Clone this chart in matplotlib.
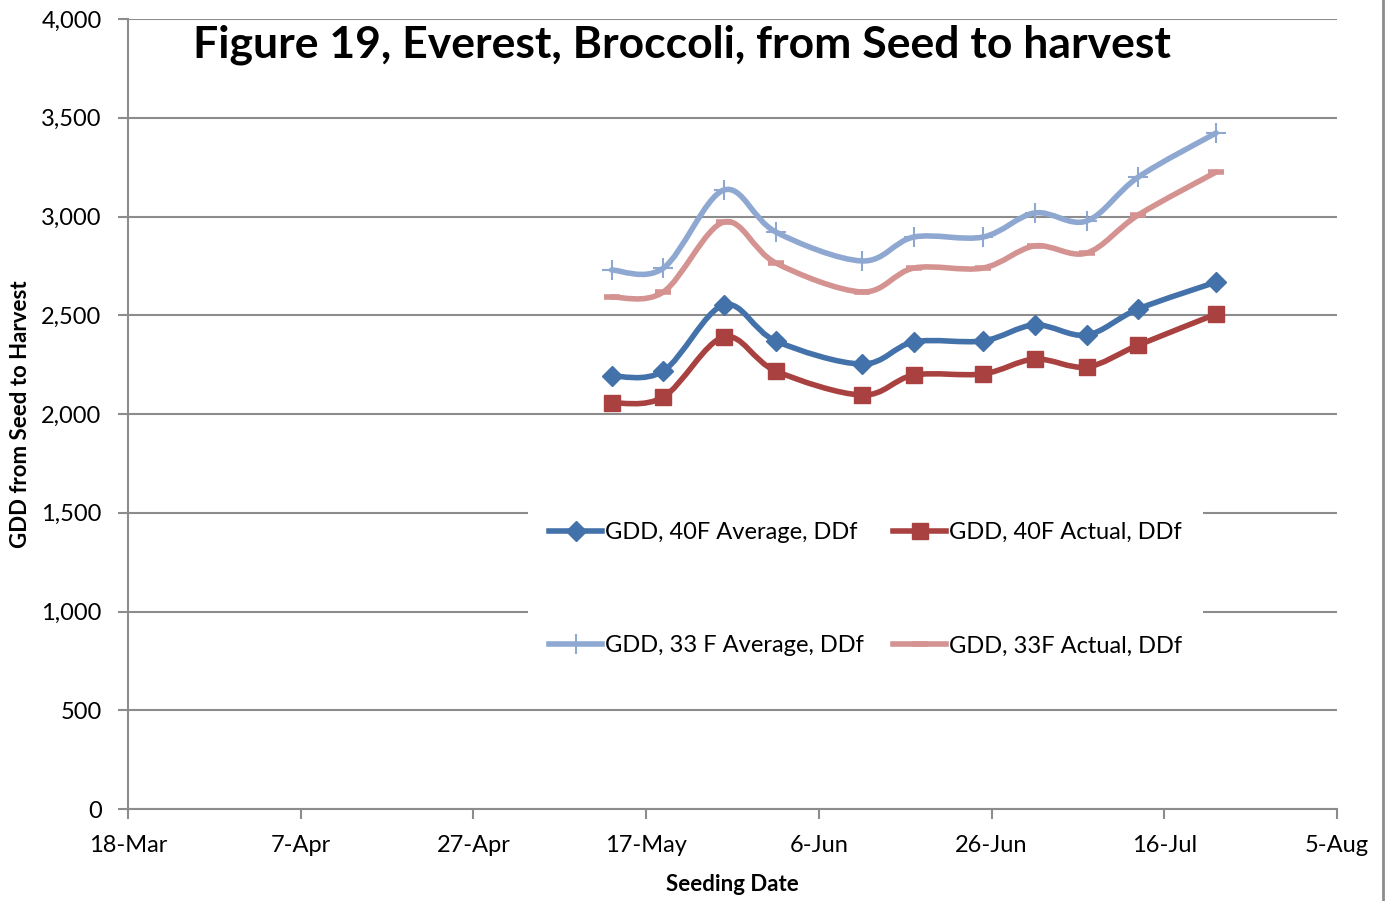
import datetime as dt
import numpy as np
import matplotlib.pyplot as plt
import matplotlib.dates as mdates
from matplotlib.path import Path
from matplotlib.patches import PathPatch
from matplotlib.lines import Line2D

# seeding dates and GDD values
seed_dates = ['2010-05-13', '2010-05-19', '2010-05-26', '2010-06-01', '2010-06-11',
              '2010-06-17', '2010-06-25', '2010-07-01', '2010-07-07', '2010-07-13',
              '2010-07-22']
gdd_40_avg = [2192, 2218, 2552, 2370, 2253, 2365, 2370, 2451, 2400, 2532, 2668]
gdd_40_act = [2056, 2086, 2390, 2218, 2096, 2197, 2203, 2278, 2238, 2349, 2506]
gdd_33_avg = [2729, 2739, 3134, 2922, 2775, 2896, 2896, 3018, 2977, 3200, 3423]
gdd_33_act = [2592, 2618, 2972, 2765, 2618, 2739, 2739, 2851, 2815, 3008, 3225]

tick_dates = ['2010-03-18', '2010-04-07', '2010-04-27', '2010-05-17', '2010-06-06',
              '2010-06-26', '2010-07-16', '2010-08-05']

plt.rcParams['font.family'] = ['Lato', 'DejaVu Sans']

x = mdates.date2num([dt.date.fromisoformat(d) for d in seed_dates])
xt = mdates.date2num([dt.date.fromisoformat(d) for d in tick_dates])


def smooth_path(xs, ys):
    """Excel-like smoothed line as cubic bezier segments"""
    pts = np.column_stack([xs, ys]).astype(float)
    n = len(pts)
    verts = [pts[0]]
    codes = [Path.MOVETO]
    for i in range(n - 1):
        p0 = pts[i - 1] if i > 0 else pts[i]
        p1, p2 = pts[i], pts[i + 1]
        p3 = pts[i + 2] if i + 2 < n else pts[i + 1]
        verts += [p1 + (p2 - p0) / 6, p2 - (p3 - p1) / 6, p2]
        codes += [Path.CURVE4] * 3
    return Path(verts, codes)


fig = plt.figure(figsize=(13.87, 9.01), dpi=100)
ax = fig.add_axes([128 / 1387, 1 - 809 / 901, 1209 / 1387, 790 / 901])

series = [
    (gdd_40_avg, '#4371A9', 'D', 10, 'GDD, 40F Average, DDf'),
    (gdd_40_act, '#A8413F', 's', 12, 'GDD, 40F Actual, DDf'),
    (gdd_33_avg, '#8FA8D1', '+', 14, 'GDD, 33 F Average, DDf'),
    (gdd_33_act, '#D49391', '_', 12, 'GDD, 33F Actual, DDf'),
]
handles = []
for ys, col, mk, ms, lab in series:
    ax.add_patch(PathPatch(smooth_path(x, ys), facecolor='none', edgecolor=col,
                           lw=4, capstyle='round', zorder=3))
    mew = 1.5 if mk == '+' else 4 if mk == '_' else 1
    ax.plot(x, ys, linestyle='none', marker=mk, ms=ms, color=col, mew=mew, zorder=4)
    handles.append(Line2D([], [], color=col, lw=4, marker=mk, ms=ms, mew=mew))

ax.set_xlim(xt[0], xt[-1])
ax.set_ylim(0, 4000)
ax.set_xticks(xt)
ax.xaxis.set_major_formatter(mdates.DateFormatter('%-d-%b'))
ax.set_yticks(np.arange(0, 4001, 500))
ax.yaxis.set_major_formatter(plt.FuncFormatter(lambda v, p: f'{v:,.0f}'))
ax.grid(axis='y', color='#8C8C8C', lw=1.5)
ax.set_axisbelow(True)
for s in ['top', 'right']:
    ax.spines[s].set_visible(False)
for s in ['left', 'bottom']:
    ax.spines[s].set_color('#8C8C8C')
    ax.spines[s].set_linewidth(1.5)
ax.tick_params(colors='#8C8C8C', labelcolor='black', labelsize=17, width=1.5, length=7)
ax.tick_params(axis='x', pad=12)
ax.tick_params(axis='y', pad=12)

ax.set_xlabel('Seeding Date', fontsize=16, fontweight='bold', labelpad=13)
ax.set_ylabel('GDD from Seed to Harvest', fontsize=16, fontweight='bold', labelpad=7)
ax.text(0.458, 0.967, 'Figure 19, Everest, Broccoli, from Seed to harvest', transform=ax.transAxes,
        ha='center', va='center', fontsize=32, fontweight='bold')

order = [0, 2, 1, 3]
leg = ax.legend([handles[i] for i in order], [series[i][4] for i in order], ncol=2,
                loc='center', bbox_to_anchor=(0.61, 0.278), fontsize=17, frameon=True,
                framealpha=1, edgecolor='none', fancybox=False, handlelength=2.25,
                handletextpad=0.1, columnspacing=1.25, labelspacing=3.9, borderpad=0.9)

fig.add_artist(Line2D([1383 / 1387] * 2, [0, 1], color='#8C8C8C', lw=2))

fig.savefig('out.png', dpi=100, facecolor='white')
